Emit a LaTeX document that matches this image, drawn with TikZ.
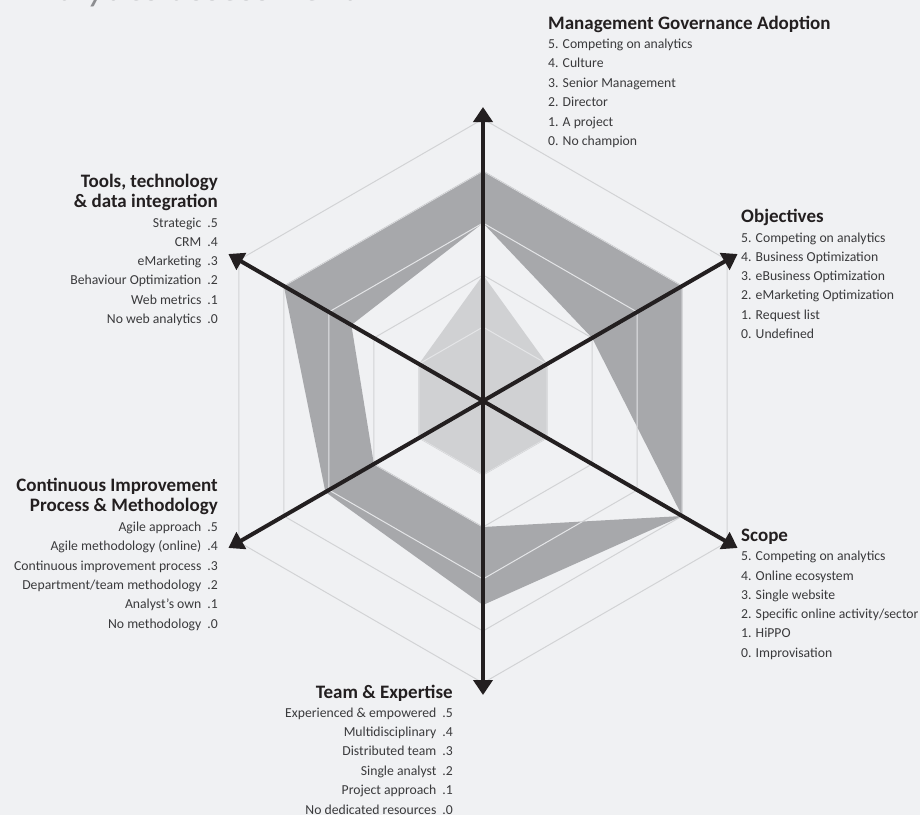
\documentclass[tikz,border=0pt]{standalone}
\usepackage{fontspec}
\setmainfont{Carlito}
\usetikzlibrary{arrows.meta}

\definecolor{pagebg}{HTML}{F0F1F3}
\definecolor{bandgrey}{HTML}{A7A8AB}
\definecolor{coregrey}{HTML}{D0D1D3}
\definecolor{ringgrey}{HTML}{D2D3D5}
\definecolor{ringlight}{HTML}{E4E5E7}
\definecolor{axisblack}{HTML}{231F20}
\definecolor{itemtext}{HTML}{3A3A3C}
\definecolor{titlegrey}{HTML}{8C8D90}

\begin{document}
\begin{tikzpicture}[x=1pt, y=1pt,
    axis/.style={line width=4pt, axisblack, -{Triangle[length=15pt, width=19pt]}},
    ring/.style={line width=1pt, ringgrey},
    head/.style={font=\fontsize{19}{21}\selectfont\bfseries, text=axisblack, inner sep=0pt},
    item/.style={font=\fontsize{13.7}{16}\selectfont, text=itemtext, inner sep=0pt}]
        % Hintergrund
        \fill[pagebg] (-483,-414) rectangle (437,401);
        \useasboundingbox (-483,-414) rectangle (437,401);

        % Titel (oben abgeschnitten)
        \node[anchor=base west, inner sep=0pt, text=titlegrey, font=\fontsize{40}{44}\selectfont\itshape] (title) at (-468,400) {Analytics assessment};

        % Raster: Stufen 1 bis 5
        \draw[ring] (90:282) -- (30:282) -- (-30:282) -- (-90:282) -- (210:282) -- (150:282) -- cycle;
        \draw[ring] (90:230) -- (30:230) -- (-30:230) -- (-90:230) -- (210:230) -- (150:230) -- cycle;
        \draw[ring] (90:178) -- (30:178) -- (-30:178) -- (-90:178) -- (210:178) -- (150:178) -- cycle;
        \draw[ring] (90:126) -- (30:126) -- (-30:126) -- (-90:126) -- (210:126) -- (150:126) -- cycle;
        \draw[ring] (90:74)  -- (30:74)  -- (-30:74)  -- (-90:74)  -- (210:74)  -- (150:74)  -- cycle;

        % Band zwischen Ziel und Ist
        \fill[bandgrey, even odd rule]
            (90:230) -- (30:230) -- (-30:230) -- (-90:204) -- (210:182) -- (150:230) -- cycle
            (90:178) -- (30:126) -- (-30:230) -- (-90:126) -- (210:126) -- (150:152) -- cycle;

        % innere Flaeche
        \fill[coregrey] (90:126) -- (30:74) -- (-30:74) -- (-90:74) -- (210:74) -- (150:74) -- cycle;

        % Raster hell ueber den Flaechen
        \begin{scope}[even odd rule]
            \clip
                (90:230) -- (30:230) -- (-30:230) -- (-90:204) -- (210:182) -- (150:230) -- cycle
                (90:178) -- (30:126) -- (-30:230) -- (-90:126) -- (210:126) -- (150:152) -- cycle
                (90:126) -- (30:74) -- (-30:74) -- (-90:74) -- (210:74) -- (150:74) -- cycle;
            \draw[ring, ringlight] (90:230) -- (30:230) -- (-30:230) -- (-90:230) -- (210:230) -- (150:230) -- cycle;
            \draw[ring, ringlight] (90:178) -- (30:178) -- (-30:178) -- (-90:178) -- (210:178) -- (150:178) -- cycle;
            \draw[ring, ringlight] (90:126) -- (30:126) -- (-30:126) -- (-90:126) -- (210:126) -- (150:126) -- cycle;
            \draw[ring, ringlight] (90:74)  -- (30:74)  -- (-30:74)  -- (-90:74)  -- (210:74)  -- (150:74)  -- cycle;
        \end{scope}

        % Achsen
        \coordinate (o) at (0,0);
        \coordinate (tip-mga) at (90:294);
        \coordinate (tip-obj) at (30:294);
        \coordinate (tip-scope) at (-30:294);
        \coordinate (tip-team) at (-90:294);
        \coordinate (tip-cip) at (210:294);
        \coordinate (tip-tools) at (150:294);
        \draw[axis] (o) -- (tip-mga);
        \draw[axis] (o) -- (tip-obj);
        \draw[axis] (o) -- (tip-scope);
        \draw[axis] (o) -- (tip-team);
        \draw[axis] (o) -- (tip-cip);
        \draw[axis] (o) -- (tip-tools);

        % Management Governance Adoption
        \node[head, anchor=base west] (mga) at (65,371.7) {Management Governance Adoption};
        \node[item, anchor=base west] (mga-5) at (65,352.7) {5. Competing on analytics};
        \node[item, anchor=base west] (mga-4) at (65,333.3) {4. Culture};
        \node[item, anchor=base west] (mga-3) at (65,313.7) {3. Senior Management};
        \node[item, anchor=base west] (mga-2) at (65,294.3) {2. Director};
        \node[item, anchor=base west] (mga-1) at (65,275.0) {1. A project};
        \node[item, anchor=base west] (mga-0) at (65,255.3) {0. No champion};

        % Objectives
        \node[head, anchor=base west] (obj) at (258,179.0) {Objectives};
        \node[item, anchor=base west] (obj-5) at (258,159.0) {5. Competing on analytics};
        \node[item, anchor=base west] (obj-4) at (258,139.7) {4. Business Optimization};
        \node[item, anchor=base west] (obj-3) at (258,120.4) {3. eBusiness Optimization};
        \node[item, anchor=base west] (obj-2) at (258,101.1) {2. eMarketing Optimization};
        \node[item, anchor=base west] (obj-1) at (258,81.8) {1. Request list};
        \node[item, anchor=base west] (obj-0) at (258,62.5) {0. Undefined};

        % Scope
        \node[head, anchor=base west] (scope) at (258,-140.7) {Scope};
        \node[item, anchor=base west] (scope-5) at (258,-159.7) {5. Competing on analytics};
        \node[item, anchor=base west] (scope-4) at (258,-179.0) {4. Online ecosystem};
        \node[item, anchor=base west] (scope-3) at (258,-198.3) {3. Single website};
        \node[item, anchor=base west] (scope-2) at (258,-217.6) {2. Specific online activity/sector};
        \node[item, anchor=base west] (scope-1) at (258,-236.9) {1. HiPPO};
        \node[item, anchor=base west] (scope-0) at (258,-256.2) {0. Improvisation};

        % Team & Expertise
        \node[head, anchor=base east] (team) at (-30,-297.0) {Team \& Expertise};
        \node[item, anchor=base east] (team-5) at (-30,-316.0) {Experienced \& empowered\hspace{6pt}.5};
        \node[item, anchor=base east] (team-4) at (-30,-335.4) {Multidisciplinary\hspace{6pt}.4};
        \node[item, anchor=base east] (team-3) at (-30,-354.8) {Distributed team\hspace{6pt}.3};
        \node[item, anchor=base east] (team-2) at (-30,-374.2) {Single analyst\hspace{6pt}.2};
        \node[item, anchor=base east] (team-1) at (-30,-393.6) {Project approach\hspace{6pt}.1};
        \node[item, anchor=base east] (team-0) at (-30,-413.0) {No dedicated resources\hspace{6pt}.0};

        % Continuous Improvement Process & Methodology
        \node[head, anchor=base east] (cip-a) at (-265,-90.7) {Continuous Improvement};
        \node[head, anchor=base east] (cip-b) at (-265,-110.7) {Process \& Methodology};
        \node[item, anchor=base east] (cip-5) at (-265,-130.0) {Agile approach\hspace{6pt}.5};
        \node[item, anchor=base east] (cip-4) at (-265,-149.5) {Agile methodology (online)\hspace{6pt}.4};
        \node[item, anchor=base east] (cip-3) at (-265,-169.0) {Continuous improvement process\hspace{6pt}.3};
        \node[item, anchor=base east] (cip-2) at (-265,-188.3) {Department/team methodology\hspace{6pt}.2};
        \node[item, anchor=base east] (cip-1) at (-265,-207.6) {Analyst’s own\hspace{6pt}.1};
        \node[item, anchor=base east] (cip-0) at (-265,-227.0) {No methodology\hspace{6pt}.0};

        % Tools, technology & data integration
        \node[head, anchor=base east] (tools-a) at (-265,214.0) {Tools, technology};
        \node[head, anchor=base east] (tools-b) at (-265,194.0) {\& data integration};
        \node[item, anchor=base east] (tools-5) at (-265,174.0) {Strategic\hspace{6pt}.5};
        \node[item, anchor=base east] (tools-4) at (-265,154.7) {CRM\hspace{6pt}.4};
        \node[item, anchor=base east] (tools-3) at (-265,135.4) {eMarketing\hspace{6pt}.3};
        \node[item, anchor=base east] (tools-2) at (-265,116.1) {Behaviour Optimization\hspace{6pt}.2};
        \node[item, anchor=base east] (tools-1) at (-265,96.8) {Web metrics\hspace{6pt}.1};
        \node[item, anchor=base east] (tools-0) at (-265,77.5) {No web analytics\hspace{6pt}.0};
    \end{tikzpicture}
\end{document}
